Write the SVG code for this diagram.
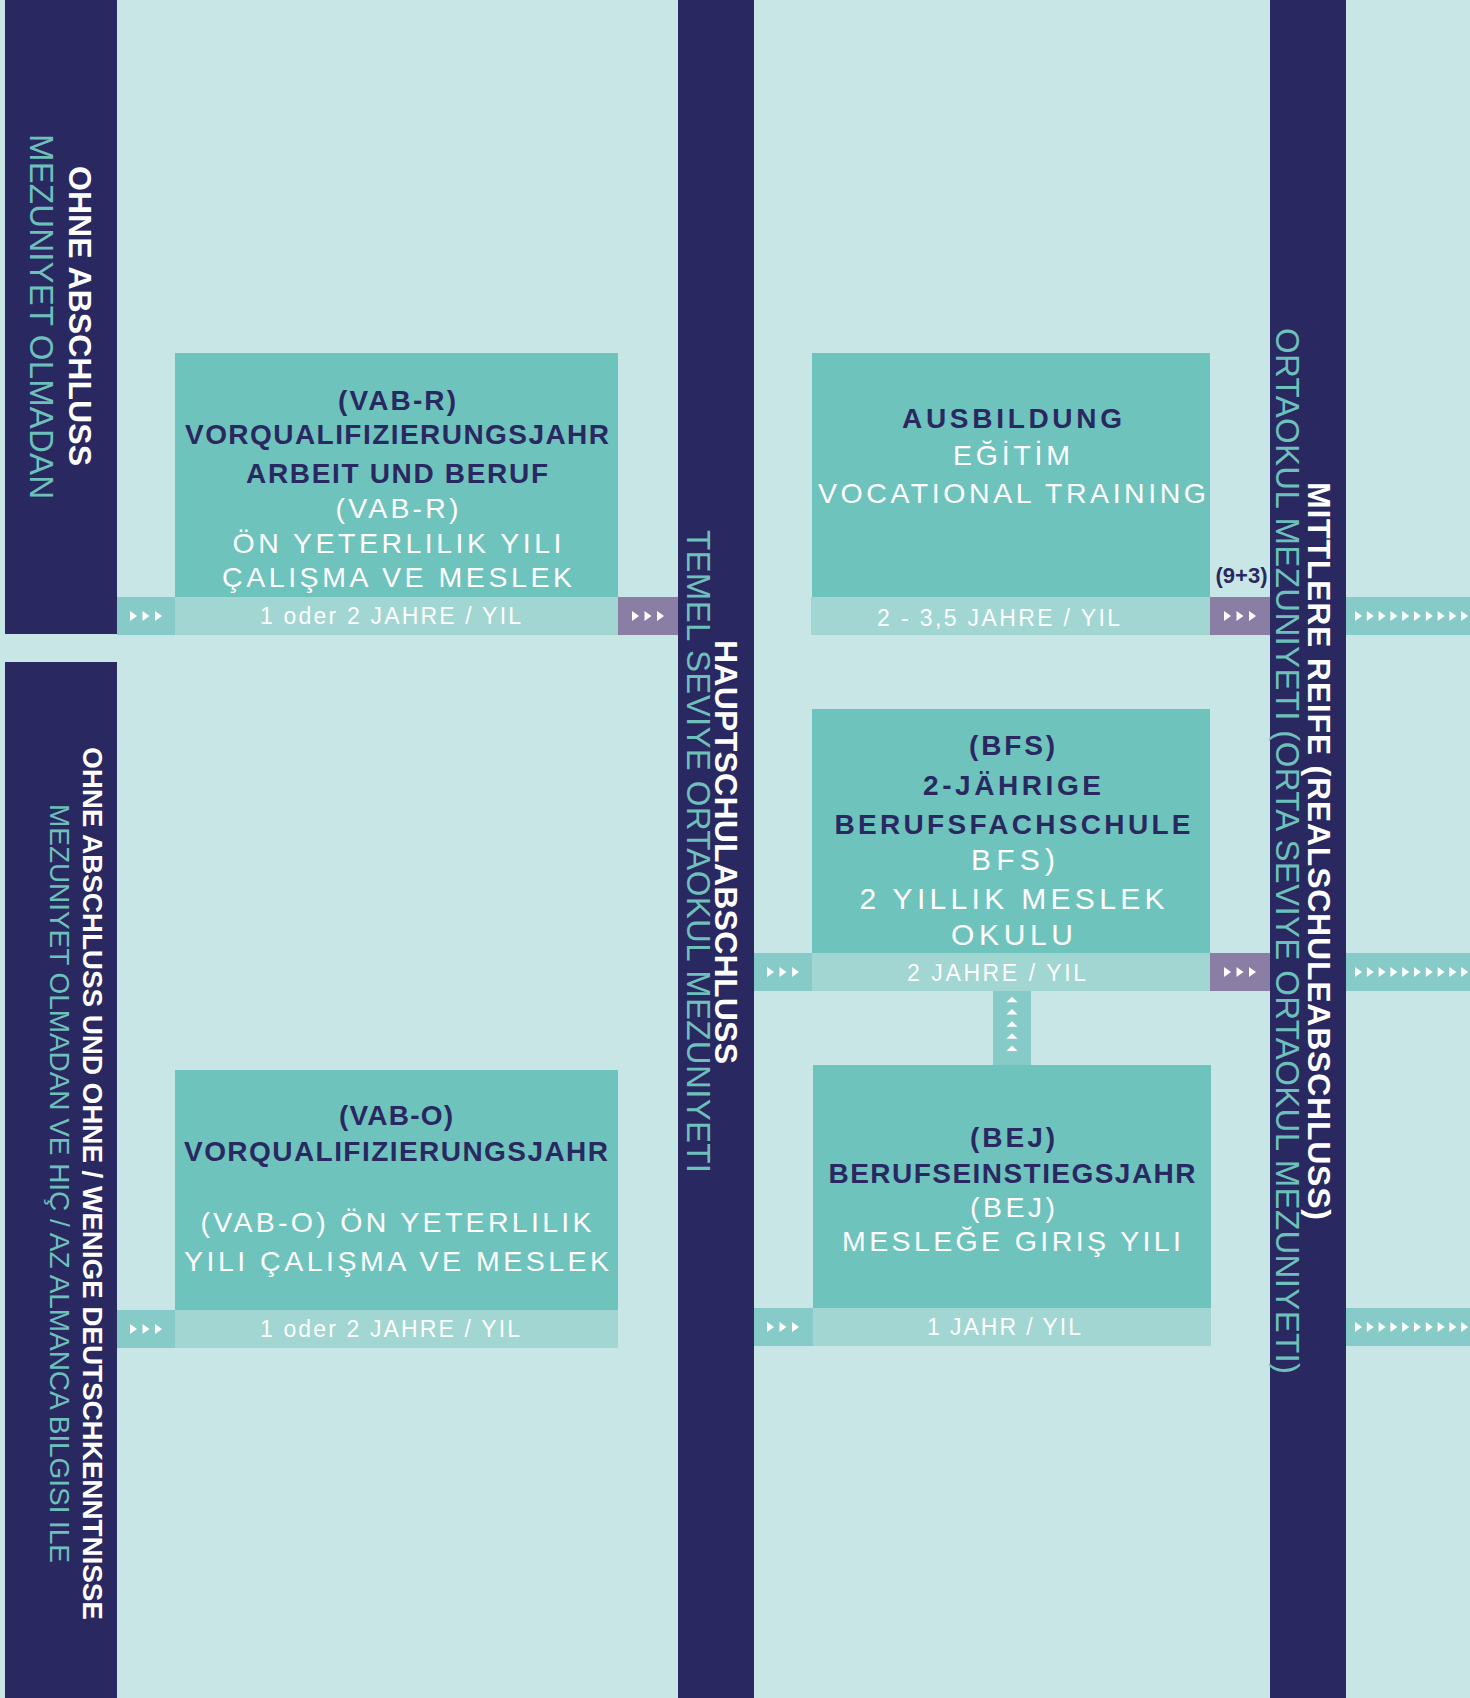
<svg xmlns="http://www.w3.org/2000/svg" xmlns:xlink="http://www.w3.org/1999/xlink" width="1470" height="1698" viewBox="0 0 1470 1698">
<style>
text{font-family:"Liberation Sans",Arial,sans-serif}
.col{fill:#2a2861}
.box{fill:#6fc3bd}
.bar{fill:#a1d6d2}
.cell{fill:#87cbc8}
.pur{fill:#8a7ea4}
.dk{fill:#2a2861;font-weight:bold;font-size:28px;text-anchor:middle}
.wt{fill:#ffffff;font-size:28.5px;text-anchor:middle}
.wt2{fill:#ffffff;font-size:30px;text-anchor:middle}
.dur{fill:#ffffff;font-size:23px;text-anchor:middle}
.vb{fill:#ffffff;font-weight:bold;font-size:32px}
.vt{fill:#6ec0bb;font-size:33px}
.vb2{fill:#ffffff;font-weight:bold;font-size:28px}
.vt2{fill:#6ec0bb;font-size:28px}
</style>
<defs>
<path id="tri" d="M0,-5 L7,0 L0,5 Z" fill="#ffffff"/>
<g id="tri3"><use xlink:href="#tri" x="0"/><use xlink:href="#tri" x="12.5"/><use xlink:href="#tri" x="25"/></g>
<g id="tri10"><use xlink:href="#tri" x="0"/><use xlink:href="#tri" x="11.8"/><use xlink:href="#tri" x="23.6"/><use xlink:href="#tri" x="35.4"/><use xlink:href="#tri" x="47.2"/><use xlink:href="#tri" x="59"/><use xlink:href="#tri" x="70.8"/><use xlink:href="#tri" x="82.6"/><use xlink:href="#tri" x="94.4"/><use xlink:href="#tri" x="106.2"/></g>
<path id="up" d="M-5.5,2.75 L0,-2.75 L5.5,2.75 Z" fill="#ffffff"/>
</defs>
<rect width="1470" height="1698" fill="#c8e6e5"/>

<g id="col-ohne-abschluss">
<rect class="col" x="5" y="0" width="112" height="634"/>
<text class="vb" transform="translate(69,166) rotate(90)" textLength="300">OHNE ABSCHLUSS</text>
<text class="vt" transform="translate(30,134) rotate(90)" textLength="365">MEZUNIYET OLMADAN</text>
</g>
<g id="col-ohne-deutsch">
<rect class="col" x="5" y="662" width="112" height="1036"/>
<text class="vb2" transform="translate(83,747) rotate(90)" textLength="873">OHNE ABSCHLUSS UND OHNE / WENIGE DEUTSCHKENNTNISSE</text>
<text class="vt2" transform="translate(50,804) rotate(90)" textLength="759">MEZUNIYET OLMADAN VE HIÇ / AZ ALMANCA BILGISI ILE</text>
</g>
<g id="col-hauptschul">
<rect class="col" x="678" y="0" width="76" height="1698"/>
<text class="vb" transform="translate(715,640) rotate(90)" textLength="424">HAUPTSCHULABSCHLUSS</text>
<text class="vt" transform="translate(687,530) rotate(90)" textLength="643">TEMEL SEVIYE ORTAOKUL MEZUNIYETI</text>
</g>
<g id="col-mittlere-reife">
<rect class="col" x="1270" y="0" width="76" height="1698"/>
<text class="vb" transform="translate(1308,482) rotate(90)" textLength="738">MITTLERE REIFE (REALSCHULEABSCHLUSS)</text>
<text class="vt" transform="translate(1276,328) rotate(90)" textLength="1046">ORTAOKUL MEZUNIYETI (ORTA SEVIYE ORTAOKUL MEZUNIYETI)</text>
</g>

<g id="connectors">
<rect class="cell" x="117" y="597" width="58" height="38"/><use xlink:href="#tri3" x="130" y="616"/>
<rect class="pur" x="618" y="597" width="60" height="38"/><use xlink:href="#tri3" x="632" y="616"/>
<rect class="pur" x="1210" y="597" width="60" height="38"/><use xlink:href="#tri3" x="1224" y="616"/>
<rect class="cell" x="1346" y="597" width="124" height="38"/><use xlink:href="#tri10" x="1355" y="616"/>
<rect class="cell" x="754" y="953" width="58" height="38"/><use xlink:href="#tri3" x="767" y="972"/>
<rect class="pur" x="1210" y="953" width="60" height="38"/><use xlink:href="#tri3" x="1224" y="972"/>
<rect class="cell" x="1346" y="953" width="124" height="38"/><use xlink:href="#tri10" x="1355" y="972"/>
<rect class="cell" x="117" y="1310" width="58" height="38"/><use xlink:href="#tri3" x="130" y="1329"/>
<rect class="cell" x="754" y="1308" width="59" height="38"/><use xlink:href="#tri3" x="767" y="1327"/>
<rect class="cell" x="1346" y="1308" width="124" height="38"/><use xlink:href="#tri10" x="1355" y="1327"/>
<rect class="cell" x="993" y="991" width="38" height="74"/>
<use xlink:href="#up" x="1012" y="999.5"/><use xlink:href="#up" x="1012" y="1011.7"/><use xlink:href="#up" x="1012" y="1023.9"/><use xlink:href="#up" x="1012" y="1036.1"/><use xlink:href="#up" x="1012" y="1048.3"/>
<text x="1241.5" y="583" fill="#2a2861" font-weight="bold" font-size="22" text-anchor="middle" textLength="52" lengthAdjust="spacingAndGlyphs">(9+3)</text>
</g>

<g id="node-vab-r">
<rect class="box" x="175" y="353" width="443" height="244"/>
<rect class="bar" x="175" y="597" width="443" height="38"/>
<text class="dk" x="397" y="409.5" textLength="118">(VAB-R)</text>
<text class="dk" x="397" y="444" textLength="424">VORQUALIFIZIERUNGSJAHR</text>
<text class="dk" x="397" y="483" textLength="302">ARBEIT UND BERUF</text>
<text class="wt" x="397" y="517.5" textLength="123">(VAB-R)</text>
<text class="wt" x="397" y="553" textLength="329">ÖN YETERLILIK YILI</text>
<text class="wt" x="397" y="587" textLength="350">ÇALIŞMA VE MESLEK</text>
<text class="dur" x="390.5" y="623.5" textLength="261">1 oder 2 JAHRE /  YIL</text>
</g>

<g id="node-ausbildung">
<rect class="box" x="812" y="353" width="398" height="244"/>
<rect class="bar" x="811" y="597" width="399" height="38"/>
<text class="dk" x="1012" y="427.5" textLength="220">AUSBILDUNG</text>
<text class="wt" x="1011.5" y="465" textLength="117">EĞİTİM</text>
<text class="wt" x="1012" y="502.5" textLength="388">VOCATIONAL TRAINING</text>
<text class="dur" x="998.5" y="626" textLength="243">2 - 3,5 JAHRE /  YIL</text>
</g>

<g id="node-bfs">
<rect class="box" x="812" y="709" width="398" height="244"/>
<rect class="bar" x="812" y="953" width="398" height="38"/>
<text class="dk" x="1012" y="755" textLength="86">(BFS)</text>
<text class="dk" x="1012" y="794.5" textLength="178">2-JÄHRIGE</text>
<text class="dk" x="1012.5" y="833.5" textLength="356">BERUFSFACHSCHULE</text>
<text class="wt2" x="1013" y="870" textLength="84">BFS)</text>
<text class="wt2" x="1012" y="909" textLength="305">2 YILLIK MESLEK</text>
<text class="wt2" x="1012" y="945" textLength="122">OKULU</text>
<text class="dur" x="996.5" y="981" textLength="179">2 JAHRE /  YIL</text>
</g>

<g id="node-bej">
<rect class="box" x="813" y="1065" width="398" height="243"/>
<rect class="bar" x="813" y="1308" width="398" height="38"/>
<text class="dk" x="1012.5" y="1147" textLength="85">(BEJ)</text>
<text class="dk" x="1012" y="1182.5" textLength="367">BERUFSEINSTIEGSJAHR</text>
<text class="wt" x="1012.5" y="1216.5" textLength="85">(BEJ)</text>
<text class="wt" x="1011.5" y="1250.5" textLength="339">MESLEĞE GIRIŞ YILI</text>
<text class="dur" x="1004" y="1334.5" textLength="154">1 JAHR / YIL</text>
</g>

<g id="node-vab-o">
<rect class="box" x="175" y="1070" width="443" height="240"/>
<rect class="bar" x="175" y="1310" width="443" height="38"/>
<text class="dk" x="396" y="1125" textLength="114">(VAB-O)</text>
<text class="dk" x="396" y="1160.5" textLength="424">VORQUALIFIZIERUNGSJAHR</text>
<text class="wt" x="396" y="1232" textLength="391">(VAB-O) ÖN YETERLILIK</text>
<text class="wt" x="396.5" y="1270.5" textLength="425">YILI ÇALIŞMA VE MESLEK</text>
<text class="dur" x="390" y="1336.5" textLength="260">1 oder 2 JAHRE / YIL</text>
</g>
</svg>
